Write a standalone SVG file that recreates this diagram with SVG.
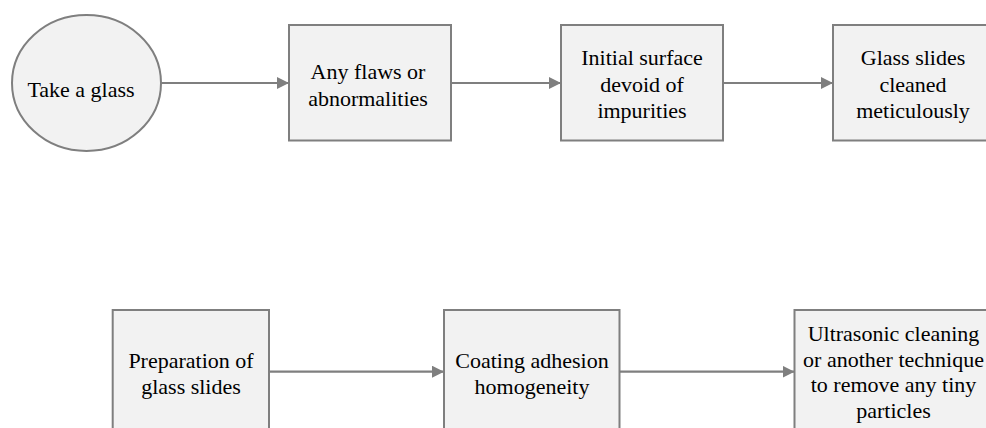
<svg xmlns="http://www.w3.org/2000/svg" width="986" height="428" viewBox="0 0 986 428">
<defs>
<style>
.node{fill:#f2f2f2;stroke:#7f7f7f;stroke-width:2}
.t{font-family:'Liberation Serif','Times New Roman','DejaVu Serif',serif;font-size:22px;fill:#000;text-anchor:middle}
.edge{stroke:#7f7f7f;stroke-width:2.2;fill:none;marker-end:url(#arr)}
</style>
<marker id="arr" viewBox="0 0 12 12" refX="12" refY="6" markerWidth="12" markerHeight="12" markerUnits="userSpaceOnUse" orient="auto">
<path d="M0,0 L12,6 L0,12 Z" fill="#7f7f7f"/>
</marker>
</defs>
<rect width="986" height="428" fill="#fff"/>
<g id="connectors">
<line class="edge" x1="161" y1="83" x2="289" y2="83"/>
<line class="edge" x1="451" y1="83" x2="561" y2="83"/>
<line class="edge" x1="723" y1="83" x2="833" y2="83"/>
<line class="edge" x1="269" y1="371.7" x2="444" y2="371.7"/>
<line class="edge" x1="619.5" y1="371.7" x2="794.5" y2="371.7"/>
</g>
<g id="take-glass">
<ellipse class="node" cx="86.5" cy="83" rx="74.5" ry="68"/>
<text class="t" font-family="Liberation Serif, serif" x="81" y="97">Take a glass</text>
</g>
<g id="any-flaws">
<rect class="node" x="289" y="25" width="162" height="115.5"/>
<text class="t" font-family="Liberation Serif, serif" x="368" y="79">Any flaws or</text>
<text class="t" font-family="Liberation Serif, serif" x="368" y="105.5">abnormalities</text>
</g>
<g id="initial-surface">
<rect class="node" x="561" y="25" width="162" height="115.5"/>
<text class="t" font-family="Liberation Serif, serif" x="642" y="65">Initial surface</text>
<text class="t" font-family="Liberation Serif, serif" x="642" y="91.7">devoid of</text>
<text class="t" font-family="Liberation Serif, serif" x="642" y="118.3">impurities</text>
</g>
<g id="glass-slides-cleaned">
<rect class="node" x="833" y="25" width="162" height="115.5"/>
<text class="t" font-family="Liberation Serif, serif" x="913" y="65">Glass slides</text>
<text class="t" font-family="Liberation Serif, serif" x="913" y="91.7">cleaned</text>
<text class="t" font-family="Liberation Serif, serif" x="913" y="118.3">meticulously</text>
</g>
<g id="preparation">
<rect class="node" x="112.7" y="310" width="156.3" height="124"/>
<text class="t" font-family="Liberation Serif, serif" x="191" y="367.5">Preparation of</text>
<text class="t" font-family="Liberation Serif, serif" x="191" y="394">glass slides</text>
</g>
<g id="coating">
<rect class="node" x="444" y="310" width="175.5" height="124"/>
<text class="t" font-family="Liberation Serif, serif" x="532" y="367.5">Coating adhesion</text>
<text class="t" font-family="Liberation Serif, serif" x="532" y="394">homogeneity</text>
</g>
<g id="ultrasonic">
<rect class="node" x="794.5" y="310" width="198" height="124"/>
<text class="t" font-family="Liberation Serif, serif" x="893.5" y="341">Ultrasonic cleaning</text>
<text class="t" font-family="Liberation Serif, serif" x="893.5" y="366.5">or another technique</text>
<text class="t" font-family="Liberation Serif, serif" x="893.5" y="392">to remove any tiny</text>
<text class="t" font-family="Liberation Serif, serif" x="893.5" y="417.5">particles</text>
</g>
</svg>
